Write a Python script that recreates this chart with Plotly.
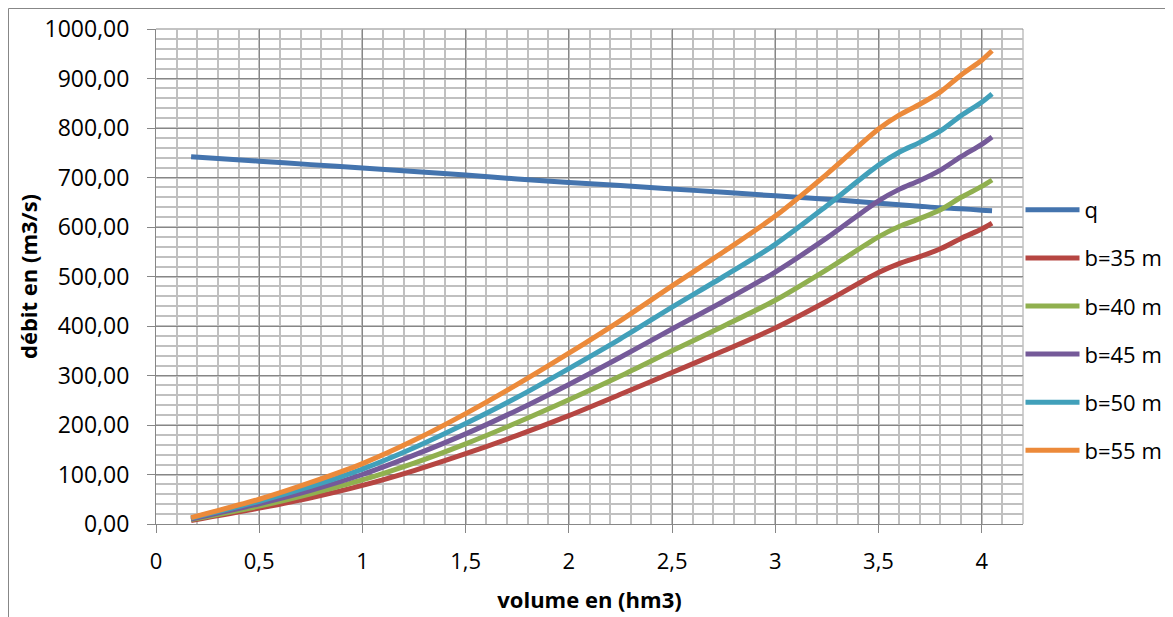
import plotly.graph_objects as go

# Volume (hm3)
volume = [0.17, 0.5, 0.75, 1.0, 1.25, 1.5, 1.75, 2.0, 2.25, 2.5, 2.75, 3.0, 3.25, 3.5, 3.6, 3.7, 3.8, 3.9, 4.0, 4.05]

# Débit (m3/s)
q   = [742, 733, 726, 719, 712, 705, 697, 690, 684, 677, 670, 663, 656, 648, 645, 642, 639, 637, 634, 633]
b35 = [7, 32, 53, 78, 108, 142, 179, 219, 262, 306, 350, 396, 450, 508, 526, 540, 556, 577, 596, 608]
b40 = [9, 36, 61, 89, 123, 162, 205, 251, 299, 350, 400, 452, 514, 580, 601, 617, 635, 660, 682, 695]
b45 = [10, 41, 68, 100, 139, 182, 230, 282, 337, 394, 450, 509, 578, 653, 676, 694, 715, 742, 767, 782]
b50 = [12, 46, 76, 111, 154, 203, 256, 314, 374, 438, 500, 565, 643, 725, 751, 771, 794, 825, 852, 869]
b55 = [13, 50, 84, 122, 169, 223, 282, 345, 411, 481, 550, 622, 707, 798, 826, 848, 873, 907, 937, 956]

names = ["q", "b=35 m", "b=40 m", "b=45 m", "b=50 m", "b=55 m"]
colors = ["#4474AE", "#B64642", "#90B04F", "#755A99", "#41A0BA", "#EC8A3A"]
series = [q, b35, b40, b45, b50, b55]

x_ticks = [0, 0.5, 1, 1.5, 2, 2.5, 3, 3.5, 4]
y_ticks = [0, 100, 200, 300, 400, 500, 600, 700, 800, 900, 1000]

FONT = "Open Sans"
MAJOR = "#878787"
MINOR = "#C0C0C0"

fig = go.Figure()
for name, col, ys in zip(names, colors, series):
    fig.add_trace(go.Scatter(
        x=volume, y=ys, name=name, mode="lines",
        line=dict(color=col, width=5, shape="spline", smoothing=0.8),
        legendgroup=name,
    ))

# the page body adds an 8px offset; figure coordinates below are page - 8
W, H = 1165, 609
L, R, T, B = 148, 150, 21, 93
pw = W - L - R
ph = H - T - B

def px2paper_x(p):
    return (p - L) / pw

def px2paper_y(p):
    return (H - B - p) / ph

fig.update_layout(
    width=W, height=H,
    margin=dict(l=L, r=R, t=T, b=B, autoexpand=False),
    paper_bgcolor="white", plot_bgcolor="white",
    font=dict(family=FONT, size=22, color="#000000"),
    separators=", ",
    showlegend=True,
    legend=dict(
        x=px2paper_x(1012.5), xanchor="left", y=px2paper_y(181), yanchor="top",
        font=dict(family=FONT, size=22, color="#000000"),
        bgcolor="rgba(0,0,0,0)", tracegroupgap=16.5, itemwidth=54,
    ),
    xaxis=dict(
        range=[0, 4.2], tickvals=x_ticks,
        showgrid=True, gridcolor=MAJOR, gridwidth=1,
        minor=dict(dtick=0.1, tick0=0, showgrid=True, gridcolor=MINOR, gridwidth=1.5, ticks=""),
        showline=True, linecolor=MAJOR, linewidth=1,
        ticks="outside", ticklen=8, tickcolor=MAJOR,
        ticklabelstandoff=10,
        zeroline=False,
        title=dict(text="<b>volume en (hm3)</b>", standoff=18,
                   font=dict(family=FONT, size=22)),
        tickfont=dict(family=FONT, size=22),
    ),
    yaxis=dict(
        range=[0, 1000], tickvals=y_ticks, tickformat=".2f",
        showgrid=True, gridcolor=MAJOR, gridwidth=1,
        minor=dict(dtick=20, tick0=0, showgrid=True, gridcolor=MINOR, gridwidth=1.5, ticks=""),
        showline=True, linecolor=MAJOR, linewidth=1,
        ticks="outside", ticklen=8, tickcolor=MAJOR,
        ticklabelstandoff=13,
        zeroline=False,
        title=dict(text="<b>débit en (m3/s)</b>", standoff=0,
                   font=dict(family=FONT, size=22)),
        tickfont=dict(family=FONT, size=23),
    ),
    shapes=[
        dict(type="rect", xref="paper", yref="paper",
             x0=px2paper_x(0.5), x1=px2paper_x(1163.5), y0=px2paper_y(640), y1=px2paper_y(0.5),
             line=dict(color=MAJOR, width=1), fillcolor="rgba(0,0,0,0)", layer="below"),
        dict(type="line", xref="paper", yref="paper", x0=1, x1=1, y0=0, y1=1,
             line=dict(color=MINOR, width=1.5), layer="below"),
        dict(type="line", xref="paper", yref="paper", x0=0, x1=1, y0=1, y1=1,
             line=dict(color=MAJOR, width=1), layer="below"),
    ],
)

fig.write_html("out.html")
